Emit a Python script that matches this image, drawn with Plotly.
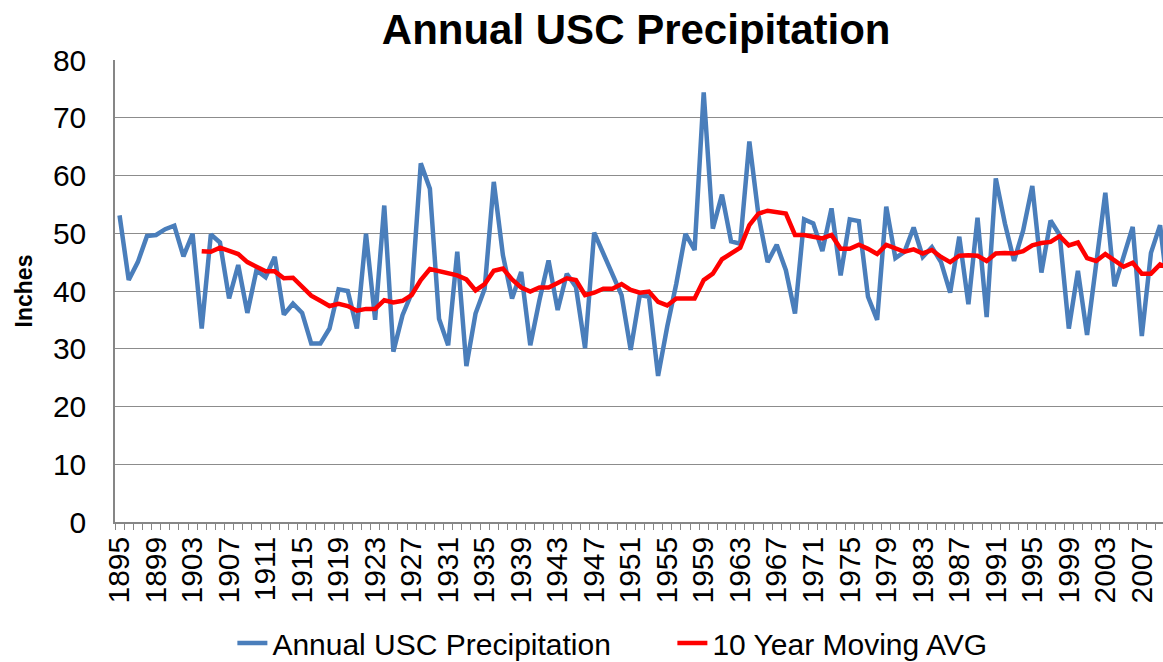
import plotly.graph_objects as go

years = list(range(1895, 2011))

annual_precip = [
    53.1, 41.9, 45.0, 49.5, 49.7, 50.7, 51.3, 46.0, 49.9, 33.5,
    49.8, 48.4, 38.7, 44.5, 36.2, 43.6, 42.4, 45.9, 35.9, 37.8,
    36.2, 30.9, 30.9, 33.5, 40.3, 40.0, 33.5, 49.9, 35.0, 54.8,
    29.5, 35.8, 39.6, 62.1, 57.7, 35.2, 30.6, 46.8, 27.0, 36.1,
    40.4, 58.9, 46.2, 38.7, 43.3, 30.6, 38.4, 45.3, 36.7, 43.0,
    40.7, 30.1, 50.1, 46.5, 43.3, 39.3, 29.8, 39.3, 39.0, 25.3,
    33.8, 41.3, 49.9, 47.1, 74.4, 50.8, 56.7, 48.6, 48.2, 65.9,
    53.1, 45.0, 48.0, 43.6, 36.1, 52.4, 51.7, 46.9, 54.3, 42.7,
    52.4, 52.1, 39.0, 35.0, 54.6, 45.7, 46.8, 51.0, 45.9, 47.6,
    45.0, 39.7, 49.4, 37.7, 52.7, 35.5, 59.5, 51.7, 45.2, 50.5,
    58.2, 43.2, 52.2, 49.7, 33.5, 43.5, 32.4, 45.3, 57.0, 40.8,
    45.9, 51.1, 32.2, 46.6, 51.4, 38.0,
]

moving_avg = [None] * 9 + [
    46.9, 46.8, 47.5, 46.9, 46.4, 45.0, 44.2, 43.4, 43.4, 42.2, 42.3,
    40.7, 39.2, 38.3, 37.4, 37.8, 37.4, 36.6, 36.9, 36.9, 38.4,
    38.0, 38.3, 39.3, 41.9, 43.8, 43.4, 43.0, 42.7, 42.0, 40.1,
    41.2, 43.5, 43.9, 42.0, 40.6, 39.9, 40.6, 40.6, 41.4, 42.2,
    41.9, 39.3, 39.7, 40.4, 40.4, 41.2, 40.2, 39.7, 39.9, 38.1,
    37.5, 38.7, 38.7, 38.7, 41.9, 43.0, 45.5, 46.5, 47.5, 51.4,
    53.4, 53.9, 53.7, 53.4, 49.7, 49.7, 49.4, 49.1, 49.7, 47.3,
    47.3, 48.0, 47.3, 46.4, 48.0, 47.3, 46.8, 47.2, 46.5, 47.1,
    45.9, 45.0, 46.1, 46.2, 46.1, 45.2, 46.5, 46.6, 46.5, 46.9,
    47.9, 48.3, 48.5, 49.5, 47.9, 48.4, 45.7, 45.2, 46.4, 45.3,
    44.2, 44.9, 43.0, 43.0, 44.6, 44.0,
]

tick_years = list(range(1895, 2008, 4))
tick_labels = [str(y) for y in tick_years]

FONT = "Liberation Sans, Arial, sans-serif"

fig = go.Figure()
fig.add_trace(go.Scatter(
    x=years, y=annual_precip, mode="lines", name="Annual USC Precipitation",
    line=dict(color="#4A7EBB", width=4.5),
))
fig.add_trace(go.Scatter(
    x=years, y=moving_avg, mode="lines", name="10 Year Moving AVG",
    line=dict(color="#FF0000", width=4.5),
))

fig.update_layout(
    width=1163, height=662,
    margin=dict(l=115, r=0, t=60, b=140, autoexpand=False),
    paper_bgcolor="white", plot_bgcolor="white",
    font=dict(family=FONT, color="black"),
    title=dict(text="<b>Annual USC Precipitation</b>", x=0.547, xanchor="center",
               y=0.955, yanchor="middle", font=dict(size=42, family=FONT)),
    showlegend=True,
    legend=dict(orientation="h", x=0.112, xanchor="left", y=-0.262, yanchor="middle",
                font=dict(size=30, family=FONT), entrywidth=395, entrywidthmode="pixels",
                tracegroupgap=0),
)

fig.update_xaxes(
    range=[1894.5, 2009.32], automargin=False,
    tickmode="array", tickvals=tick_years, ticktext=tick_labels,
    tickangle=-90, tickfont=dict(size=30, family=FONT),
    ticks="", showgrid=False,
    showline=True, linecolor="#868686", linewidth=1.5,
    zeroline=False, ticklabelstandoff=1,
    minor=dict(tickmode="linear", tick0=1894.5, dtick=1, ticks="outside",
               ticklen=6, tickcolor="#868686", tickwidth=1, showgrid=False),
)
fig.update_yaxes(
    range=[0, 80], dtick=10, automargin=False, tickfont=dict(size=30, family=FONT),
    showgrid=True, gridcolor="#8C8C8C", gridwidth=1,
    showline=True, linecolor="#868686", linewidth=1.5,
    zeroline=False, ticks="", ticklabelstandoff=21,
    title=dict(text="<b>Inches</b>", font=dict(size=23, family=FONT), standoff=14),
)

fig.write_html(
    "out.html",
    config={"displayModeBar": False},
    post_script="document.body.style.margin='0';document.body.style.overflow='hidden';",
)
